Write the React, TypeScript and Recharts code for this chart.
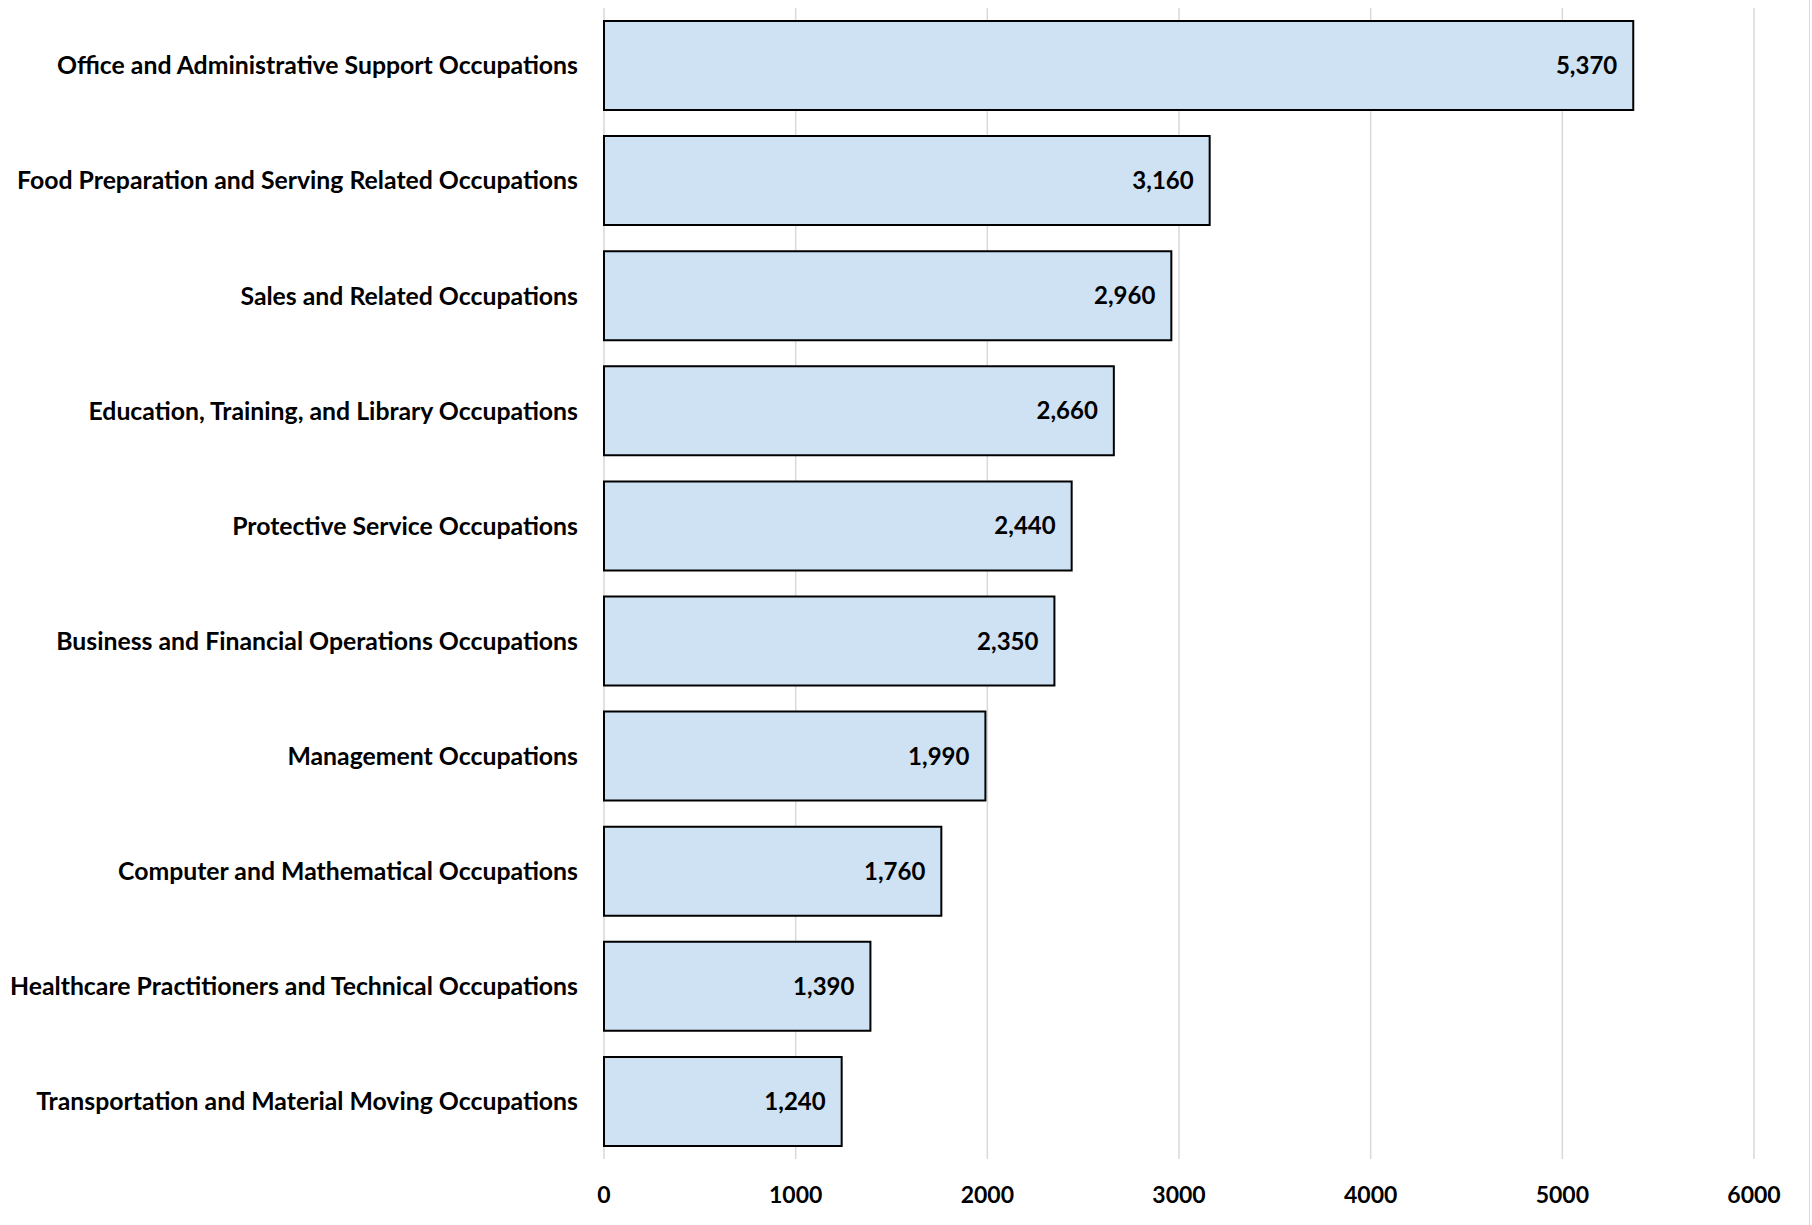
import React from "react";
import { BarChart, Bar, XAxis, YAxis, CartesianGrid, LabelList } from "recharts";

const categories = [
  "Office and Administrative Support Occupations",
  "Food Preparation and Serving Related Occupations",
  "Sales and Related Occupations",
  "Education, Training, and Library Occupations",
  "Protective Service Occupations",
  "Business and Financial Operations Occupations",
  "Management Occupations",
  "Computer and Mathematical Occupations",
  "Healthcare Practitioners and Technical Occupations",
  "Transportation and Material Moving Occupations",
];

const values = [5370, 3160, 2960, 2660, 2440, 2350, 1990, 1760, 1390, 1240];

const xTicks = [0, 1000, 2000, 3000, 4000, 5000, 6000];

const data = categories.map((name, i) => ({ name, value: values[i] }));

const FONT = "Lato, 'Open Sans', sans-serif";

export default function App() {
  return (
    <div style={{ position: "absolute", left: 0, top: 0, width: 1812, height: 1225, background: "#fff" }}>
      <BarChart
        width={1812}
        height={1225}
        data={data}
        layout="vertical"
        margin={{ top: 8, right: 58, bottom: 0, left: 0 }}
        barCategoryGap="11.3%"
      >
        <CartesianGrid horizontal={false} vertical={true} stroke="#D9D9D9" strokeWidth={1.5} />
        <XAxis
          type="number"
          domain={[0, 6000]}
          ticks={xTicks}
          height={66}
          axisLine={false}
          tickLine={false}
          tickSize={0}
          tickMargin={28}
          interval={0}
          tick={{ fill: "#000", fontSize: 23, fontWeight: 700, fontFamily: FONT }}
        />
        <YAxis
          type="category"
          dataKey="name"
          width={604}
          axisLine={false}
          tickLine={false}
          tickSize={0}
          tickMargin={26}
          interval={0}
          tick={{ fill: "#000", fontSize: 24.8, fontWeight: 700, fontFamily: FONT }}
        />
        <Bar dataKey="value" fill="#CFE2F3" stroke="#000" strokeWidth={2} isAnimationActive={false}>
          <LabelList
            dataKey="value"
            position="insideRight"
            offset={16}
            formatter={(v: number) => v.toLocaleString("en-US")}
            style={{ fill: "#000", fontSize: 24, fontWeight: 700, fontFamily: FONT }}
          />
        </Bar>
      </BarChart>
      <div style={{ position: "absolute", left: 1809, top: 0, width: 1, height: 1225, background: "#D9D9D9" }} />
    </div>
  );
}
